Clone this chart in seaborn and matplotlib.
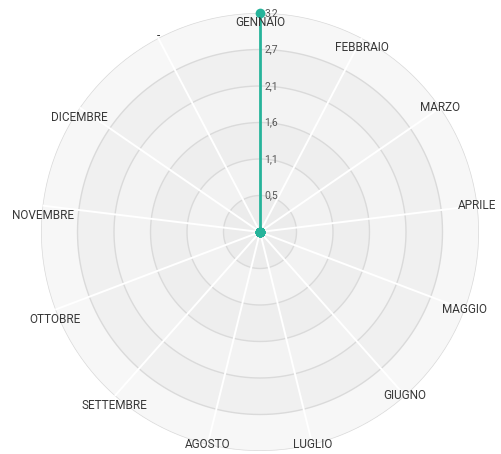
import numpy as np
import pandas as pd
import matplotlib
matplotlib.use('Agg')
import matplotlib.pyplot as plt
import matplotlib.transforms as mtransforms
import seaborn as sns

# data
mesi = ['GENNAIO', 'FEBBRAIO', 'MARZO', 'APRILE', 'MAGGIO', 'GIUGNO', 'LUGLIO',
        'AGOSTO', 'SETTEMBRE', 'OTTOBRE', 'NOVEMBRE', 'DICEMBRE', '-']
valori = [3.2, 0, 0, 0, 0, 0, 0, 0, 0, 0, 0, 0, 0]
r_max = 3.2
r_ticks = np.linspace(0, r_max, 7)

sns.set_style('white')
plt.rcParams['font.family'] = ['Roboto', 'DejaVu Sans']

n = len(mesi)
theta = np.arange(n) * 2 * np.pi / n
df = pd.DataFrame({'theta': np.append(theta, theta[0]),
                   'valore': valori + valori[:1]})

fig = plt.figure(figsize=(5.02, 4.54), dpi=100)
ax = fig.add_axes([41 / 502, 3 / 454, 438 / 502, 438 / 454], projection='polar')
ax.set_theta_zero_location('N')
ax.set_theta_direction(-1)
ax.set_ylim(0, r_max)
ax.set_facecolor('none')
ax.spines['polar'].set_visible(False)
ax.grid(False)
ax.set_xticks([])
ax.set_yticks([])

# concentric background bands
band_colors = ['#ececec', '#f2f2f2', '#eeeeee', '#f3f3f3', '#f0f0f0', '#f7f7f7']
for i in range(len(r_ticks) - 1):
    ax.bar(0, r_ticks[i + 1] - r_ticks[i], width=2 * np.pi, bottom=r_ticks[i],
           color=band_colors[i], edgecolor='none', zorder=0, align='edge')

# ring lines
circ = np.linspace(0, 2 * np.pi, 361)
for r in r_ticks[1:]:
    ax.plot(circ, np.full_like(circ, r), color='#dadada', lw=1, zorder=1)

# spokes
for t in theta:
    ax.plot([t, t], [0, r_max], color='white', lw=1.4, zorder=2)

# data series
sns.lineplot(data=df, x='theta', y='valore', ax=ax, sort=False, color='#26b39a',
             lw=2, marker='o', markersize=7, markeredgewidth=0, zorder=5,
             clip_on=False)
ax.set_xlabel('')
ax.set_ylabel('')
ax.set_ylim(0, r_max)

# radial labels
off = mtransforms.offset_copy(ax.transData, fig=fig, x=3, y=0, units='points')
for r in r_ticks[1:]:
    lab = f'{r:.1f}'.replace('.', ',')
    ax.text(0, r, lab, transform=off, ha='left', va='center', fontsize=7.5,
            color='#555555', zorder=6)

# category labels, centred on the outer ring
for t, m in zip(theta, mesi):
    s, c = np.sin(t), np.cos(t)
    if m == '-':
        dy = 2
    elif s < -0.5 or c > 0.85:
        dy = -7
    else:
        dy = 0
    tr = mtransforms.offset_copy(ax.transData, fig=fig, x=0, y=dy, units='points')
    ax.text(t, r_max, m, transform=tr, ha='center', va='center', fontsize=8.5,
            color='#383838', zorder=6)

fig.savefig('out.png', dpi=100)
